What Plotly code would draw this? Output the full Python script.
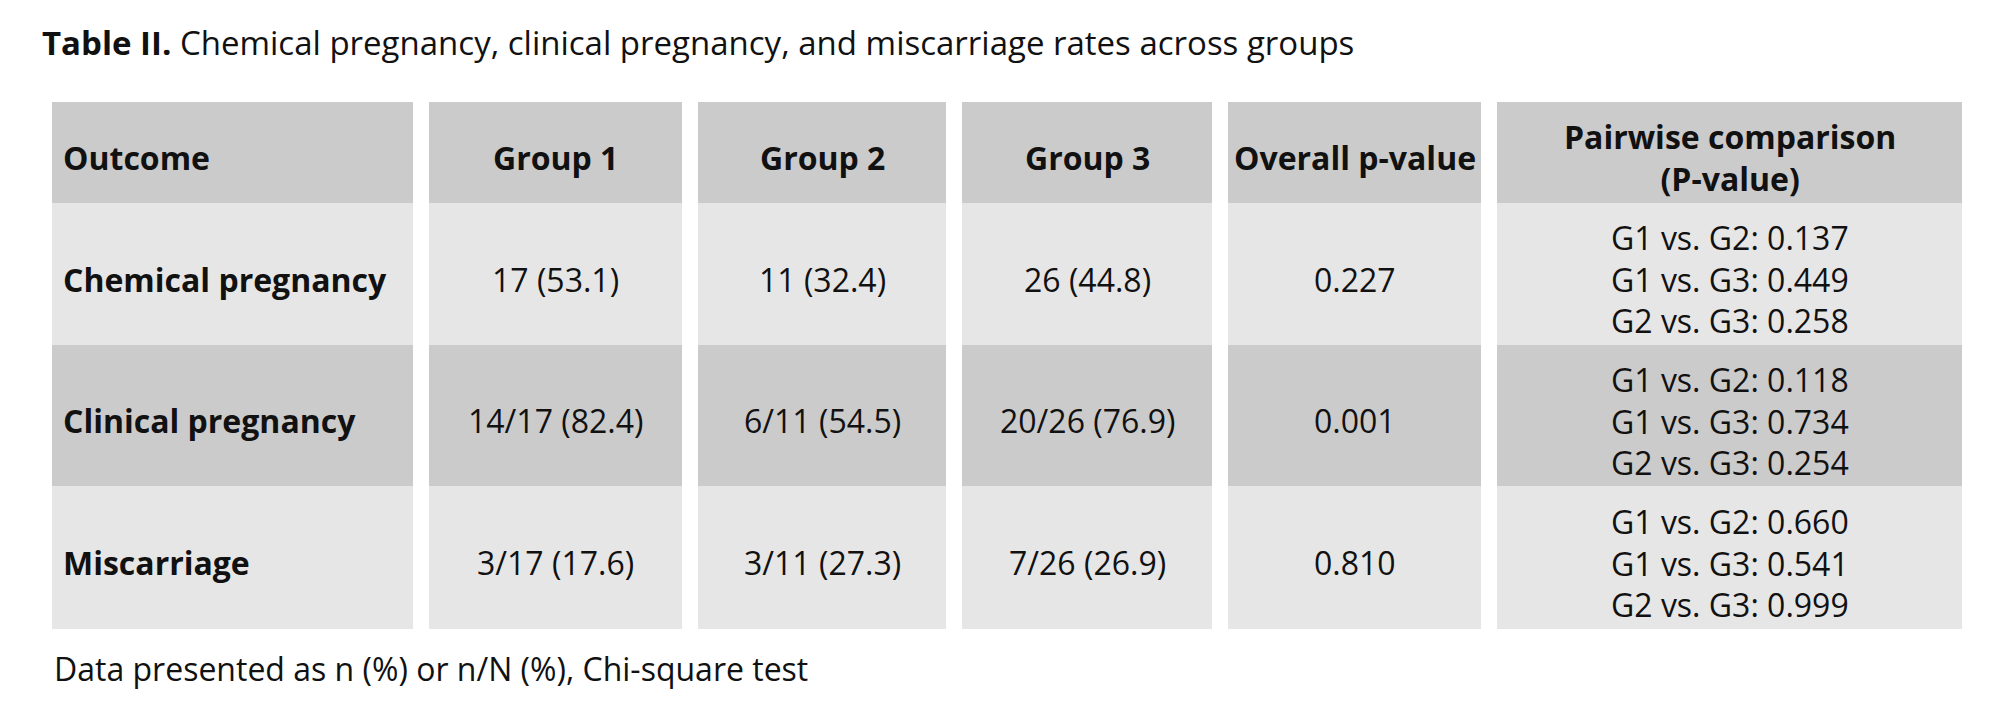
import numpy as np
import plotly.graph_objects as go

# ---- data ----
title_bold = "Table II."
title_rest = "Chemical pregnancy, clinical pregnancy, and miscarriage rates across groups"
headers = ["Outcome", "Group 1", "Group 2", "Group 3", "Overall p-value", "Pairwise comparison<br>(P-value)"]
outcomes = ["Chemical pregnancy", "Clinical pregnancy", "Miscarriage"]
group1 = ["17 (53.1)", "14/17 (82.4)", "3/17 (17.6)"]
group2 = ["11 (32.4)", "6/11 (54.5)", "3/11 (27.3)"]
group3 = ["26 (44.8)", "20/26 (76.9)", "7/26 (26.9)"]
overall_p = ["0.227", "0.001", "0.810"]
pairwise = [
    ["G1 vs. G2: 0.137", "G1 vs. G3: 0.449", "G2 vs. G3: 0.258"],
    ["G1 vs. G2: 0.118", "G1 vs. G3: 0.734", "G2 vs. G3: 0.254"],
    ["G1 vs. G2: 0.660", "G1 vs. G3: 0.541", "G2 vs. G3: 0.999"],
]
footnote = "Data presented as n (%) or n/N (%), Chi-square test"

# ---- layout (pixel geometry of the table, in screenshot pixels) ----
W, H = 2000, 719
OFF = 8  # page body margin
col_edges = [52, 413, 429, 682, 698, 946, 962, 1212, 1228, 1481, 1497, 1962]
row_edges = [102, 203, 345, 486, 629]
FONT = "Open Sans"
FS = 32
TEXT_DY = 5
DARK, LIGHT = "#cbcbcb", "#e6e6e6"
shade = [0, 1, 0, 1]  # header, row1, row2, row3

ncols = len(col_edges) - 1
z = []
for s in shade:
    z.append([np.nan if c % 2 == 1 else s for c in range(ncols)])

fig = go.Figure()
fig.add_trace(go.Heatmap(
    x=col_edges, y=row_edges, z=z,
    colorscale=[[0, DARK], [1, LIGHT]], zmin=0, zmax=1,
    showscale=False, hoverinfo="skip",
))

col_centers = [(col_edges[2 * i] + col_edges[2 * i + 1]) / 2 for i in range(6)]
row_centers = [(row_edges[i] + row_edges[i + 1]) / 2 + TEXT_DY for i in range(4)]

ann = []
def add(text, x, y, anchor="center", size=FS):
    ann.append(dict(text=text, x=x, y=y, xref="x", yref="y", xanchor=anchor,
                    yanchor="middle", showarrow=False,
                    align=anchor if anchor != "center" else "center",
                    font=dict(family=FONT, size=size, color="#111111")))

# header
for i, h in enumerate(headers):
    if i == 0:
        add("<b>" + h + "</b>", col_edges[0] + 9, row_centers[0], anchor="left")
    else:
        add("<b>" + h + "</b>", col_centers[i], row_centers[0])

body_cols = [group1, group2, group3, overall_p]
for r in range(3):
    y = row_centers[r + 1]
    add("<b>" + outcomes[r] + "</b>", col_edges[0] + 9, y, anchor="left")
    for j, col in enumerate(body_cols):
        add(col[r], col_centers[j + 1], y)
    add("<br>".join(pairwise[r]), col_centers[5], y)

add("<b>" + title_bold + "</b> " + title_rest, 40, 42, anchor="left", size=33)
add(footnote, 52, 668, anchor="left")

fig.update_layout(
    width=W, height=H,
    margin=dict(l=0, r=0, t=0, b=0),
    paper_bgcolor="white", plot_bgcolor="white",
    xaxis=dict(range=[OFF, W + OFF], visible=False, fixedrange=True),
    yaxis=dict(range=[H + OFF, OFF], visible=False, fixedrange=True),
    annotations=ann,
    showlegend=False,
)
fig.write_html("out.html")
